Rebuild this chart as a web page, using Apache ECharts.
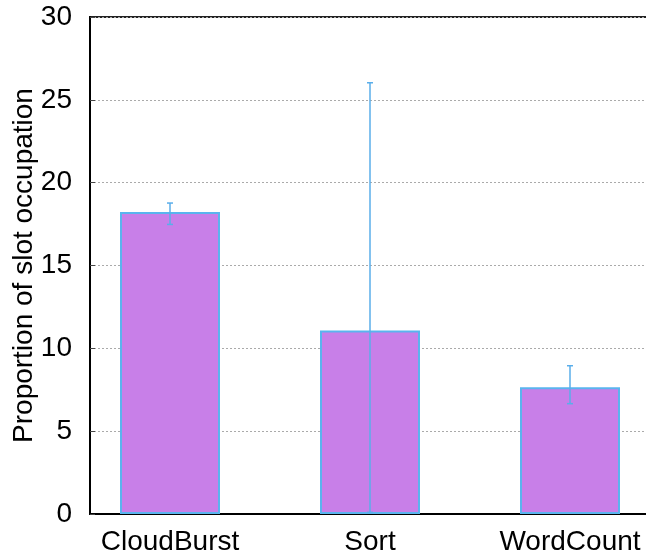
<!DOCTYPE html>
<html>
<head>
<meta charset="utf-8">
<script src="https://cdn.jsdelivr.net/npm/echarts@6/dist/echarts.min.js"></script>
<style>
  html, body { margin: 0; padding: 0; background: #fff; }
  #chart { width: 646px; height: 559px; }
</style>
</head>
<body>
<div id="chart"></div>
<script>
// data
var categories = ['CloudBurst', 'Sort', 'WordCount']
var positions = [1, 2, 3]
var means = [18.23, 11.08, 7.65]
var errLow = [17.48, 0.1, 6.66]
var errHigh = [18.77, 26.03, 8.95]
var yTicks = [0, 5, 10, 15, 20, 25, 30]

var font = 'Liberation Sans, Arial, Helvetica, sans-serif'
var errColor = '#5aaeea'

var barData = positions.map(function (p, i) { return [p, means[i]] })
var errData = positions.map(function (p, i) { return [p, errLow[i], errHigh[i]] })

var chart = echarts.init(document.getElementById('chart'))
chart.setOption({
  animation: false,
  backgroundColor: '#fff',
  grid: {
    left: 90, right: -2, top: 17, bottom: 45,
    outerBoundsMode: 'none',
    containLabel: false,
    show: true, borderColor: '#222', borderWidth: 2, backgroundColor: 'transparent'
  },
  xAxis: {
    type: 'value',
    min: 0.6,
    max: 3.39,
    splitLine: { show: false },
    axisTick: { show: false },
    axisLine: { show: true, lineStyle: { color: '#000', width: 2 } },
    axisLabel: {
      customValues: positions,
      fontSize: 28, fontFamily: font, color: '#000', margin: 14,
      formatter: function (v) {
        var i = positions.indexOf(v)
        return i >= 0 ? categories[i] : ''
      }
    }
  },
  yAxis: {
    type: 'value',
    min: yTicks[0],
    max: yTicks[yTicks.length - 1],
    interval: 5,
    name: 'Proportion of slot occupation',
    nameLocation: 'middle',
    nameGap: 52,
    nameMoveOverlap: false,
    nameTextStyle: { fontSize: 28, fontFamily: font, color: '#000' },
    axisLine: { show: true, lineStyle: { color: '#000', width: 2 } },
    axisTick: { show: true, inside: true, length: 5, lineStyle: { color: '#444' } },
    axisLabel: { fontSize: 28, fontFamily: font, color: '#000', margin: 18 },
    splitLine: { show: true, lineStyle: { color: '#aaa', type: [2, 2], width: 1 } }
  },
  series: [
    {
      type: 'bar',
      data: barData,
      barWidth: 100,
      itemStyle: { color: '#c87fe8', borderColor: '#5ab4ee', borderWidth: 2 }
    },
    {
      type: 'custom',
      data: errData,
      z: 5,
      renderItem: function (params, api) {
        var x = api.value(0)
        var lo = api.coord([x, api.value(1)])
        var hi = api.coord([x, api.value(2)])
        var style = { stroke: errColor, lineWidth: 1.5 }
        return {
          type: 'group',
          children: [
            { type: 'line', shape: { x1: hi[0], y1: hi[1], x2: lo[0], y2: lo[1] }, style: style },
            { type: 'line', shape: { x1: hi[0] - 3, y1: hi[1], x2: hi[0] + 3, y2: hi[1] }, style: style },
            { type: 'line', shape: { x1: lo[0] - 3, y1: lo[1], x2: lo[0] + 3, y2: lo[1] }, style: style }
          ]
        }
      }
    }
  ]
})
</script>
</body>
</html>
